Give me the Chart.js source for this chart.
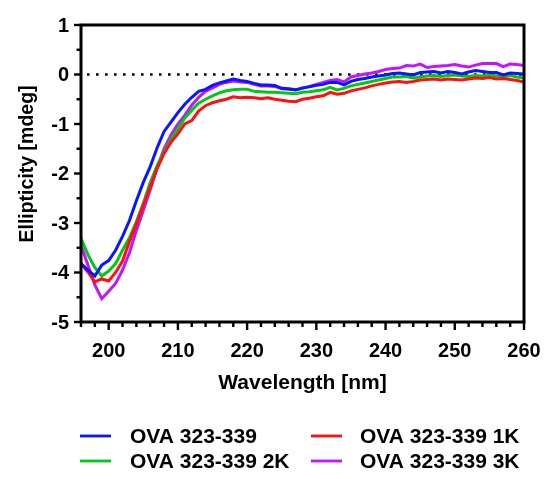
<!DOCTYPE html>
<html lang="en">
<head>
    <meta charset="UTF-8">
    <title>CD spectra OVA 323-339</title>
    <script src="https://cdn.jsdelivr.net/npm/chart.js"></script>
    <style>
        html, body {
            margin: 0;
            padding: 0;
            background: #fff;
        }
        #wrap {
            width: 544px;
            height: 479px;
        }
    </style>
</head>
<body>
    <div id="wrap"><canvas id="cd"></canvas></div>

    <script>
        // Wavelengths (nm)
        const wavelength = [196, 197, 198, 199, 200, 201, 202, 203, 204, 205, 206, 207, 208, 209, 210,
            211, 212, 213, 214, 215, 216, 217, 218, 219, 220, 221, 222, 223, 224, 225,
            226, 227, 228, 229, 230, 231, 232, 233, 234, 235, 236, 237, 238, 239, 240,
            241, 242, 243, 244, 245, 246, 247, 248, 249, 250, 251, 252, 253, 254, 255,
            256, 257, 258, 259, 260];

        // Ellipticity (mdeg)
        const ova = [-3.82, -3.95, -4.07, -3.85, -3.76, -3.55, -3.27, -2.95, -2.55, -2.18, -1.86, -1.48, -1.15, -0.96, -0.77,
            -0.60, -0.46, -0.34, -0.30, -0.22, -0.17, -0.13, -0.09, -0.12, -0.14, -0.18, -0.21, -0.21, -0.22, -0.28,
            -0.29, -0.31, -0.27, -0.25, -0.22, -0.20, -0.16, -0.16, -0.21, -0.14, -0.10, -0.08, -0.05, -0.03, -0.01,
            0.02, 0.03, 0.01, -0.01, 0.04, 0.05, 0.06, 0.03, 0.06, 0.04, 0.01, 0.05, 0.08, 0.06, 0.04,
            0.04, -0.01, 0.03, 0.02, 0.01];
        const ova1K = [-3.82, -3.99, -4.19, -4.13, -4.17, -4.00, -3.77, -3.38, -3.02, -2.64, -2.27, -1.90, -1.60, -1.37, -1.20,
            -1.00, -0.93, -0.74, -0.63, -0.57, -0.53, -0.50, -0.45, -0.47, -0.46, -0.47, -0.49, -0.47, -0.50, -0.52,
            -0.54, -0.55, -0.50, -0.48, -0.45, -0.43, -0.36, -0.40, -0.38, -0.33, -0.30, -0.27, -0.23, -0.20, -0.17,
            -0.15, -0.14, -0.16, -0.14, -0.11, -0.10, -0.09, -0.11, -0.09, -0.10, -0.11, -0.09, -0.07, -0.08, -0.06,
            -0.09, -0.08, -0.10, -0.12, -0.15];
        const ova2K = [-3.31, -3.64, -3.90, -4.07, -3.97, -3.82, -3.55, -3.30, -2.97, -2.60, -2.18, -1.84, -1.56, -1.31, -1.10,
            -0.88, -0.72, -0.58, -0.50, -0.43, -0.37, -0.33, -0.31, -0.30, -0.30, -0.34, -0.35, -0.36, -0.36, -0.37,
            -0.38, -0.39, -0.36, -0.35, -0.33, -0.31, -0.26, -0.31, -0.28, -0.23, -0.20, -0.17, -0.14, -0.11, -0.08,
            -0.05, -0.05, -0.04, -0.07, -0.05, -0.03, -0.02, -0.04, -0.02, -0.01, -0.03, -0.04, -0.02, -0.03, -0.01,
            -0.03, -0.05, -0.02, -0.05, -0.07];
        const ova3K = [-3.45, -3.85, -4.25, -4.53, -4.38, -4.22, -3.95, -3.60, -3.15, -2.75, -2.33, -1.88, -1.50, -1.22, -1.00,
            -0.82, -0.62, -0.46, -0.34, -0.27, -0.20, -0.16, -0.13, -0.15, -0.16, -0.20, -0.23, -0.23, -0.24, -0.29,
            -0.30, -0.31, -0.28, -0.24, -0.20, -0.16, -0.12, -0.10, -0.15, -0.05, -0.02, 0.01, 0.03, 0.06, 0.10,
            0.12, 0.13, 0.18, 0.17, 0.21, 0.14, 0.16, 0.17, 0.18, 0.20, 0.17, 0.15, 0.19, 0.22, 0.22,
            0.22, 0.16, 0.21, 0.20, 0.18];

        const seriesNames = ['OVA 323-339', 'OVA 323-339 1K', 'OVA 323-339 2K', 'OVA 323-339 3K'];
        const seriesColors = ['#0a14ff', '#ff1010', '#00c814', '#c414ff'];

        const xTicks = [200, 210, 220, 230, 240, 250, 260];
        const yTicks = [1, 0, -1, -2, -3, -4, -5];

        const FONT = '"Liberation Sans", Arial, sans-serif';

        function toPoints(values) {
            return values.map((v, i) => ({ x: wavelength[i], y: v }));
        }

        // Dotted line at y = 0, under the curves
        const zeroLine = {
            id: 'zeroLine',
            beforeDatasetsDraw(chart) {
                const { ctx, chartArea, scales } = chart;
                const y0 = scales.y.getPixelForValue(0);
                ctx.save();
                ctx.strokeStyle = '#000';
                ctx.lineWidth = 2.6;
                ctx.setLineDash([2.6, 6.4]);
                ctx.beginPath();
                ctx.moveTo(chartArea.left + 6, y0);
                ctx.lineTo(chartArea.right, y0);
                ctx.stroke();
                ctx.restore();
            }
        };

        // Frame, ticks, labels, titles and legend
        const decor = {
            id: 'decor',
            afterDraw(chart) {
                const { ctx, chartArea, scales } = chart;
                const x = scales.x, y = scales.y;
                const L = chartArea.left, R = chartArea.right, T = chartArea.top, B = chartArea.bottom;
                ctx.save();
                ctx.strokeStyle = '#000';
                ctx.fillStyle = '#000';
                ctx.lineWidth = 3;
                ctx.lineCap = 'butt';

                // box
                ctx.strokeRect(L, T, R - L, B - T);

                // y ticks (major 1, minor 0.5)
                ctx.lineWidth = 2.4;
                for (let v = -5; v <= 1; v += 0.5) {
                    const py = y.getPixelForValue(v);
                    const len = Number.isInteger(v) ? 7 : 4.5;
                    ctx.beginPath();
                    ctx.moveTo(L, py);
                    ctx.lineTo(L - len, py);
                    ctx.stroke();
                }
                // x ticks (major 10, minor 2)
                for (let v = 196; v <= 260; v += 2) {
                    const px = x.getPixelForValue(v);
                    const len = v % 10 === 0 ? 8 : 5;
                    ctx.beginPath();
                    ctx.moveTo(px, B);
                    ctx.lineTo(px, B + len);
                    ctx.stroke();
                }

                // tick labels
                ctx.font = 'bold 20px ' + FONT;
                ctx.textAlign = 'right';
                ctx.textBaseline = 'middle';
                yTicks.forEach(v => {
                    ctx.fillText(String(v).replace('-', '-'), L - 12, y.getPixelForValue(v) + 1);
                });
                ctx.textAlign = 'center';
                ctx.textBaseline = 'alphabetic';
                xTicks.forEach(v => {
                    ctx.fillText(String(v), x.getPixelForValue(v), B + 35);
                });

                // axis titles
                ctx.font = 'bold 21px ' + FONT;
                ctx.fillText('Wavelength [nm]', (L + R) / 2, B + 67);
                ctx.save();
                ctx.translate(33, 164);
                ctx.rotate(-Math.PI / 2);
                ctx.font = 'bold 19.5px ' + FONT;
                ctx.fillText('Ellipticity [mdeg]', 0, 0);
                ctx.restore();

                // legend, two columns
                const cols = [[80, 130], [311, 360]];
                const rows = [436, 461];
                const order = [0, 1, 2, 3];
                ctx.font = 'bold 21px ' + FONT;
                ctx.textAlign = 'left';
                ctx.textBaseline = 'middle';
                order.forEach((di, k) => {
                    const ds = chart.data.datasets[di];
                    const c = cols[k % 2], ry = rows[Math.floor(k / 2)];
                    ctx.strokeStyle = ds.borderColor;
                    ctx.lineWidth = 2.8;
                    ctx.beginPath();
                    ctx.moveTo(c[0], ry);
                    ctx.lineTo(c[0] + 31, ry);
                    ctx.stroke();
                    ctx.fillStyle = '#000';
                    ctx.fillText(ds.label, c[1], ry + 1);
                });
                ctx.restore();
            }
        };

        const valueSets = [ova, ova1K, ova2K, ova3K];

        new Chart(document.getElementById('cd'), {
            type: 'line',
            data: {
                datasets: valueSets.map((vals, i) => ({
                    label: seriesNames[i],
                    data: toPoints(vals),
                    borderColor: seriesColors[i],
                    backgroundColor: seriesColors[i],
                    borderWidth: 3,
                    pointRadius: 0,
                    tension: 0,
                    fill: false
                }))
            },
            options: {
                responsive: true,
                maintainAspectRatio: false,
                animation: false,
                devicePixelRatio: 1,
                layout: { padding: { top: 25, right: 20, left: 0, bottom: 0 } },
                plugins: {
                    legend: { display: false },
                    tooltip: { enabled: false }
                },
                scales: {
                    x: {
                        type: 'linear',
                        min: 196,
                        max: 260,
                        grid: { display: false },
                        border: { display: false },
                        ticks: { display: false, stepSize: 10 },
                        afterFit(scale) { scale.height = 157; }
                    },
                    y: {
                        type: 'linear',
                        min: -5,
                        max: 1,
                        grid: { display: false },
                        border: { display: false },
                        ticks: { display: false, stepSize: 1 },
                        afterFit(scale) { scale.width = 81; }
                    }
                }
            },
            plugins: [zeroLine, decor]
        });
    </script>
</body>
</html>
